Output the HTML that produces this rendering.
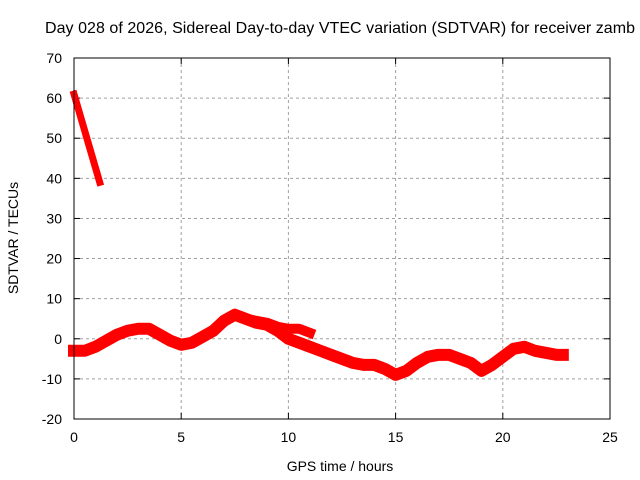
<!DOCTYPE html>
<html><head><meta charset="utf-8"><style>
body{margin:0;background:#fff}
svg{display:block;font-family:"Liberation Sans",sans-serif;font-size:14px}
</style></head><body>
<svg id="c" width="640" height="480">
<rect width="640" height="480" fill="#fff"/>
<text x="340" y="33" text-anchor="middle" font-size="16" textLength="590">Day 028 of 2026, Sidereal Day-to-day VTEC variation (SDTVAR) for receiver zamb</text>
<text x="340" y="471" text-anchor="middle">GPS time / hours</text>
<text transform="translate(18,238) rotate(-90)" text-anchor="middle">SDTVAR / TECUs</text>
<g id="grid"></g><g id="series"></g>
<rect x="74" y="58" width="536" height="361" fill="none" stroke="#000"/>
</svg>
<script>
const xTicks=[0,5,10,15,20,25];
const yTicks=[-20,-10,0,10,20,30,40,50,60,70];
const steepHours=[0,0.3,0.6,0.9,1.2];
const steepValues=[61,55.5,50,44.5,39];
const mainHours=[0,0.5,1,1.5,2,2.5,3,3.5,4,4.5,5,5.5,6,6.5,7,7.5,8,8.5,9,9.5,10,10.5,11,11.5,12,12.5,13,13.5,14,14.5,15,15.5,16,16.5,17,17.5,18,18.5,19,19.5,20,20.5,21,21.5,22,22.5,22.8];
const mainValues=[-3,-3,-2,-0.5,1,2,2.5,2.5,1,-0.5,-1.5,-1,0.5,2,4.5,6,5,4,3.5,2,0,-1,-2,-3,-4,-5,-6,-6.5,-6.5,-7.5,-9,-8,-6,-4.5,-4,-4,-5,-6,-8,-6.5,-4.5,-2.5,-2,-3,-3.5,-4,-4];
const branchHours=[8.5,9,9.5,10,10.5,11];
const branchValues=[4.5,4,3,2.5,2.5,1.5];
const X=h=>74+h*536/25, Y=v=>58+(70-v)*361/90;
const NS="http://www.w3.org/2000/svg";
const g=document.getElementById('grid'), s=document.getElementById('series');
function el(t,a,p){const e=document.createElementNS(NS,t);for(const k in a)e.setAttribute(k,a[k]);p.appendChild(e);return e;}
xTicks.forEach(t=>{
 if(t>0&&t<25){const l=el('line',{x1:X(t),x2:X(t),y1:58,y2:419,stroke:'#a0a0a0','stroke-dasharray':'3,3'},g);
 
 }
 const tx=el('text',{x:X(t),y:442,'text-anchor':'middle'},g);tx.textContent=t;
 
 
 el('line',{x1:X(t),x2:X(t),y1:419,y2:413,stroke:'#000'},g);el('line',{x1:X(t),x2:X(t),y1:58,y2:64,stroke:'#000'},g);
});
yTicks.forEach(t=>{
 if(t>-20&&t<70){const l=el('line',{x1:74,x2:610,y1:Y(t),y2:Y(t),stroke:'#a0a0a0','stroke-dasharray':'3,3'},g);
 
 }
 const tx=el('text',{x:62,y:Y(t)+5,'text-anchor':'end'},g);tx.textContent=t;
 
 
 el('line',{x1:74,x2:80,y1:Y(t),y2:Y(t),stroke:'#000'},g);el('line',{x1:604,x2:610,y1:Y(t),y2:Y(t),stroke:'#000'},g);
});
function line(hs,vs,name,w){
 const p=el('polyline',{points:hs.map((h,i)=>X(h)+','+Y(vs[i])).join(' '),fill:'none',stroke:'#f00','stroke-width':w,'stroke-linejoin':'round','stroke-linecap':'square'},s);
 
 
}
line(steepHours,steepValues,'sdtvar-steep-segment',7);
line(mainHours,mainValues,'sdtvar-main-series',12);
line(branchHours,branchValues,'sdtvar-branch-series',10);
</script>
</body></html>
